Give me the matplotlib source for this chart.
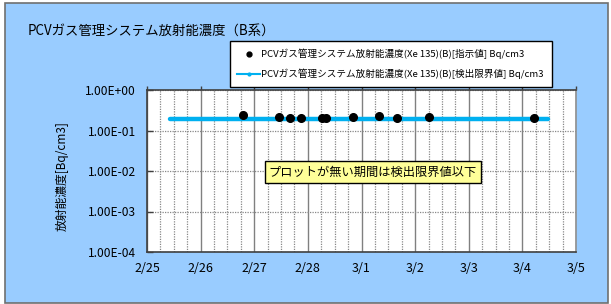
import numpy as np
import pandas as pd
import matplotlib
matplotlib.use("Agg")
from matplotlib import pyplot as plt
import matplotlib.dates as mdates
from matplotlib.patches import Rectangle
from matplotlib.lines import Line2D

plt.rcParams['font.family'] = ['Noto Sans CJK JP', 'DejaVu Sans']

# Données
point_times = ["2013-02-26 19:00", "2013-02-27 11:00", "2013-02-27 16:00", "2013-02-27 21:00",
               "2013-02-28 06:30", "2013-02-28 08:00", "2013-02-28 20:00", "2013-03-01 08:00",
               "2013-03-01 16:00", "2013-03-02 06:00", "2013-03-04 05:00"]
point_values = [0.24, 0.21, 0.20, 0.20, 0.20, 0.20, 0.21, 0.23, 0.20, 0.22, 0.20]

limit_times = ["2013-02-25 10:20", "2013-03-04 11:30"]
limit_values = [0.19, 0.19]

tick_dates = pd.date_range("2013-02-25", "2013-03-05", freq="D")
tick_labels = ["2/25", "2/26", "2/27", "2/28", "3/1", "3/2", "3/3", "3/4", "3/5"]
y_ticks = [1e-4, 1e-3, 1e-2, 1e-1, 1e0]
y_labels = ["1.00E-04", "1.00E-03", "1.00E-02", "1.00E-01", "1.00E+00"]

title = "PCVガス管理システム放射能濃度（B系）"
label_points = "PCVガス管理システム放射能濃度(Xe 135)(B)[指示値] Bq/cm3"
label_limit = "PCVガス管理システム放射能濃度(Xe 135)(B)[検出限界値] Bq/cm3"
note = "プロットが無い期間は検出限界値以下"
ylabel = "放射能濃度[Bq/cm3]"

W, H = 611, 304
fig = plt.figure(figsize=(W / 100, H / 100), dpi=100, facecolor="white")

# Fond bleu avec cadre gris
fig.patches.append(Rectangle((5 / W, 1 - 303 / H), 603 / W, 300 / H, transform=fig.transFigure,
                             facecolor="#99CCFF", edgecolor="#707070", lw=1.2, zorder=-1))

ax = fig.add_axes([147 / W, 1 - 252 / H, (576 - 147) / W, (252 - 90) / H])
ax.set_facecolor("white")

pt = pd.to_datetime(point_times)
lt = pd.to_datetime(limit_times)
ax.plot(lt, limit_values, color="#00B0F0", lw=3.2, solid_capstyle="round", zorder=3)
ax.plot(pt, point_values, "o", color="black", ms=5.5, zorder=4)

ax.set_yscale("log")
ax.set_ylim(1e-4, 1e0)
ax.set_xlim(tick_dates[0], tick_dates[-1])

ax.set_yticks(y_ticks)
ax.set_yticklabels(y_labels, fontsize=8.6)
ax.yaxis.set_minor_locator(matplotlib.ticker.NullLocator())
ax.set_xticks(tick_dates)
ax.set_xticklabels(tick_labels, fontsize=9)
ax.xaxis.set_minor_locator(mdates.HourLocator(byhour=[6, 12, 18]))

ax.tick_params(axis="y", direction="in", length=4, width=1, color="#404040", pad=8)
ax.tick_params(axis="x", which="major", direction="out", length=0, pad=7)
ax.tick_params(axis="x", which="minor", length=0)

# Grille
ax.grid(True, axis="x", which="major", color="#808080", lw=1.0, ls="-")
ax.grid(True, axis="x", which="minor", color="#888888", lw=0.9, ls=(0, (1, 1)))
ax.grid(True, axis="y", which="major", color="#888888", lw=0.9, ls=(0, (1, 1)))
ax.set_axisbelow(True)

# Petites graduations en haut
sec = ax.secondary_xaxis("top")
sec.set_xticks(tick_dates)
sec.set_xticklabels([])
sec.tick_params(direction="out", length=3, width=1, color="#404040")
sec.spines["top"].set_visible(False)

for side in ["left", "top", "bottom"]:
    ax.spines[side].set_color("#404040")
    ax.spines[side].set_linewidth(1.2)
ax.spines["right"].set_color("#909090")
ax.spines["right"].set_linewidth(1.2)

fig.text(62 / W, 1 - 176 / H, ylabel, rotation=90, ha="center", va="center", fontsize=8.5)
fig.text(28 / W, 1 - 31 / H, title, ha="left", va="center", fontsize=9.6)

# Légende
handles = [Line2D([], [], ls="none", marker="o", color="black", ms=3.5),
           Line2D([], [], color="#00B0F0", lw=1.5, marker="o", ms=2)]
leg = fig.legend(handles, [label_points, label_limit], loc="upper left",
                 bbox_to_anchor=(225 / W, 1 - 36 / H), fontsize=6.9, frameon=True,
                 fancybox=False, edgecolor="black", framealpha=1, handlelength=2.4,
                 labelspacing=1.0, borderpad=0.8, handletextpad=0.1)
leg.get_frame().set_linewidth(1.0)

# Note
fig.text(373 / W, 1 - 172 / H, note, ha="center", va="center", fontsize=8.8,
         bbox=dict(boxstyle="square,pad=0.35", facecolor="#FFFF99", edgecolor="black", lw=1))

fig.savefig("out.png", dpi=100)
